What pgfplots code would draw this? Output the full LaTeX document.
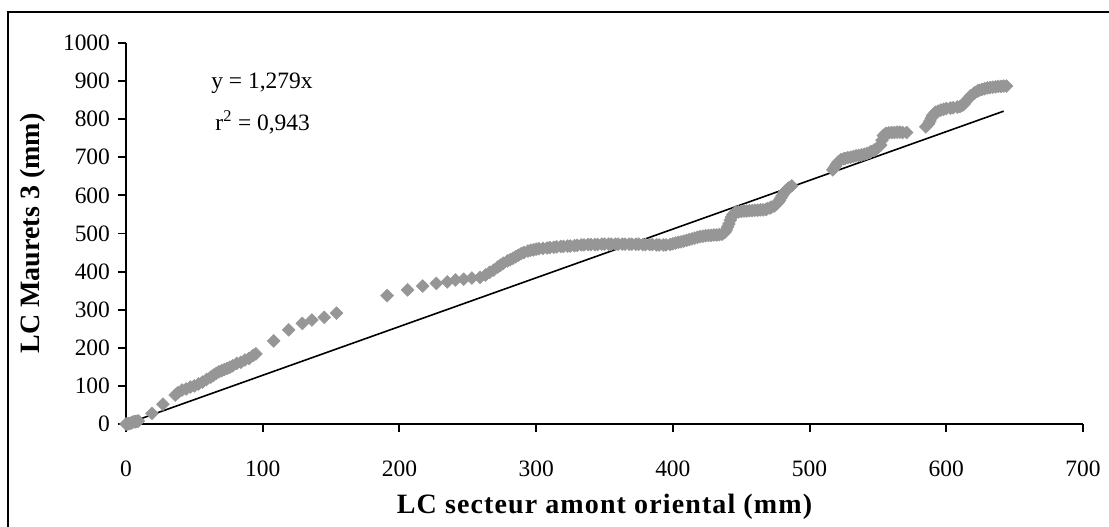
\documentclass[border=0pt]{standalone}
\usepackage{pgfplots}
\pgfplotsset{compat=1.18}
\usepackage{fontspec}
\setmainfont{Liberation Serif}
\definecolor{ptgray}{RGB}{150,150,150}
\begin{document}
\begin{tikzpicture}
\useasboundingbox (-94.5pt,-77.25pt) rectangle (737.25pt,318pt);
\draw[line width=1.5pt] (-88.5pt,-80pt) -- (-88.5pt,309pt) -- (740pt,309pt);
\begin{axis}[
  at={(0,0)}, anchor=south west,
  scale only axis, width=717.75pt, height=285.75pt,
  xmin=0, xmax=700, ymin=0, ymax=1000,
  axis lines=left,
  axis line style={-, line width=1.4pt},
  every tick/.style={black, line width=1.4pt},
  tick align=outside, major tick length=6pt,
  xtick={0,100,...,700}, ytick={0,100,...,1000},
  /pgf/number format/assume math mode=true,
  /pgf/number format/1000 sep={},
  tick label style={font=\fontsize{17.6}{20}\selectfont},
  xticklabel style={yshift=-18pt},
  yticklabel style={xshift=-2.5pt},
  xlabel={\addfontfeature{LetterSpace=4}LC secteur amont oriental (mm)},
  ylabel={LC Maurets 3 (mm)},
  label style={font=\fontsize{21}{24}\selectfont\bfseries},
  xlabel style={at={(axis description cs:0.5,-0.2336)}, anchor=base},
  ylabel style={at={(axis description cs:-0.0909,0.5)}, anchor=base},
  clip=false,
]
\addplot[only marks, mark=square*, mark size=3.4pt, mark options={rotate=45, fill=ptgray, draw=none}, color=ptgray] coordinates {
(0,0)(1,0)(2,1)(3,2)(4,3)(5,5)(6,6)(7,6)(8,7)(9,8)
(19,28)(27,52)(36,76)(38,82)(41,89)(44,92)(47,97)(50,100)(53,105)(56,110)
(59,117)(62,123)(64,128)(66,133)(68,137)(70,140)(72,143)(74,146)(76,149)(78,153)
(81,159)(84,162)(87,168)(90,172)(93,180)(95,184)(108,218)(119,247)(129,264)(136,273)
(145,280)(154,291)(191,337)(206,352)(217,362)(227,369)(235,373)(241,378)(247,380)(253,383)
(259,385)(263,391)(266,398)(269,404)(272,412)(274,417)(276,422)(279,428)(281,431)(283,435)(285,439)(287,443)(289,447)(291,450)
(294,454)(296,456)(298,457)(300,459)(302,460)(305,461)(308,462)(310,463)(313,464)(315,465)(318,466)(320,466)(323,467)(325,467)(328,468)(330,469)(333,470)(335,470)
(338,471)(340,471)(343,471)(345,471)(348,472)(350,472)(353,472)(355,472)(358,472)(360,472)(363,472)(365,472)(368,472)(370,472)(373,472)(375,472)(378,471)(380,471)(383,471)(385,471)
(388,470)(390,470)(393,470)(395,470)(398,471)(400,473)(402,475)(404,477)(406,478)(408,480)(410,482)(412,484)(414,486)(416,488)(418,490)(420,492)(422,493)(424,494)(426,495)(428,495)
(430,496)(432,496)(434,497)(436,498)(438,503)(439,509)(440,517)(441,525)(442,535)(443,543)(444,550)(446,556)(448,557)(450,558)(452,559)(454,559)(456,560)(458,560)
(460,561)(462,561)(464,562)(466,562)(468,563)(469,565)(471,567)(472,569)(474,572)(475,575)(476,578)(477,582)(478,587)(479,593)(480,599)(481,605)(482,610)(483,614)(484,617)(485,620)
(487,625)
(517,667)(518,672)(519,677)(520,683)(521,688)(523,694)(525,696)(526,697)(528,699)(530,700)(532,702)(534,704)(536,705)(538,706)(540,708)(542,710)(544,713)(545,715)
(547,718)(548,720)(549,723)(550,726)(551,729)(552,732)(553,745)(554,757)(555,760)(556,763)(558,764)(560,765)(562,765)(564,766)(566,766)(568,765)(571,765)
(585,780)(587,788)(588,795)(589,803)(590,810)(592,818)(594,821)(596,824)(598,826)(600,828)(603,829)(605,830)(608,832)(610,833)(612,837)(613,840)(614,845)(615,850)
(617,857)(618,862)(620,867)(621,870)(623,874)(624,876)(626,878)(628,880)(630,882)(632,883)(634,884)(636,885)(638,886)(640,886)(642,887)(644,887)
};
\addplot[black, line width=1.2pt, no marks] coordinates {(0,0) (642,821.1)};
\node[anchor=west, font=\fontsize{17.6}{20}\selectfont] at (axis cs:59,893) {y = 1,279x};
\node[anchor=west, font=\fontsize{17.6}{20}\selectfont] at (axis cs:62,792) {r\textsuperscript{2} = 0,943};
\end{axis}
\end{tikzpicture}
\end{document}
